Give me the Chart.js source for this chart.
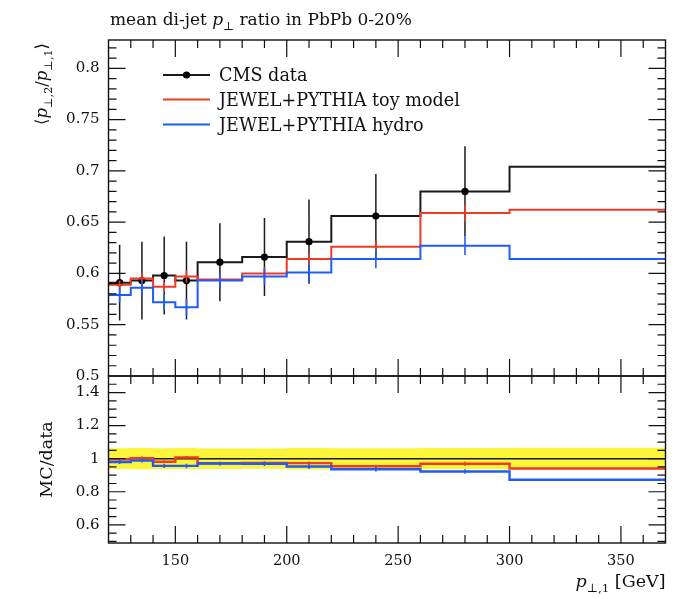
<!DOCTYPE html>
<html>
<head>
<meta charset="utf-8">
<script src="https://cdn.jsdelivr.net/npm/chart.js@4/dist/chart.umd.min.js"></script>
<style>
  html, body { margin: 0; padding: 0; background: #fff; }
  #wrap { width: 692px; height: 599px; position: relative; }
</style>
</head>
<body>
<div id="wrap"><canvas id="c" width="692" height="599"></canvas></div>
<script>
// Bin edges in leading-jet pT [GeV]; the last bin runs past the shown range
const binEdges  = [120, 130, 140, 150, 160, 180, 200, 220, 260, 300, 500];
// Mean di-jet pT ratio <pT2/pT1>, PbPb 0-20%
const cmsData   = [0.591, 0.593, 0.598, 0.593, 0.611, 0.616, 0.631, 0.656, 0.680, 0.704];
const cmsErr    = [0.037, 0.038, 0.038, 0.038, 0.038, 0.038, 0.041, 0.041, 0.044, 0.046];
const toyModel  = [0.589, 0.595, 0.587, 0.597, 0.594, 0.600, 0.614, 0.626, 0.659, 0.662];
const toyErr    = [0.004, 0.006, 0.005, 0.006, 0.005, 0.006, 0.006, 0.006, 0.008, 0.008];
const hydro     = [0.579, 0.586, 0.572, 0.567, 0.593, 0.597, 0.601, 0.614, 0.627, 0.614];
const hydroErr  = [0.007, 0.007, 0.008, 0.008, 0.007, 0.008, 0.009, 0.009, 0.009, 0.009];
// Tick labels
const xTickValues     = [150, 200, 250, 300, 350];
const mainTickValues  = [0.5, 0.55, 0.6, 0.65, 0.7, 0.75, 0.8];
const ratioTickValues = [0.6, 0.8, 1, 1.2, 1.4];
// Legend entries
const seriesNames = ['CMS data', 'JEWEL+PYTHIA toy model', 'JEWEL+PYTHIA hydro'];

const FONT = '"DejaVu Serif", serif';
const BLACK = '#1a1a1a';
const RED = '#ee3a26';
const BLUE = '#1f5cf5';
const YELLOW = '#fcf53a';

const centers = binEdges.slice(0, -1).map((e, i) => (e + binEdges[i + 1]) / 2);

// histogram outline: one point per lower edge, plus the final upper edge
function steps(vals) {
  const pts = vals.map((v, i) => ({ x: binEdges[i], y: v }));
  pts.push({ x: binEdges[binEdges.length - 1], y: vals[vals.length - 1] });
  return pts;
}
// vertical error segments at bin centres, separated by gaps
function errorBars(vals, errs) {
  const pts = [];
  vals.forEach((v, i) => {
    pts.push({ x: centers[i], y: v - errs[i] }, { x: centers[i], y: v + errs[i] }, { x: centers[i], y: null });
  });
  return pts;
}
const ratio = (vals) => vals.map((v, i) => v / cmsData[i]);
const ratioErr = (errs) => errs.map((e, i) => e / cmsData[i]);

// 'before': each horizontal run keeps the value of the point that starts it
function stepSet(data, color, axis, order, width) {
  return { type: 'line', data, yAxisID: axis, order, stepped: 'before', borderColor: color,
           borderWidth: width || 2, pointRadius: 0, fill: false, spanGaps: false };
}
function barSet(data, color, axis, order, width) {
  return { type: 'line', data, yAxisID: axis, order, borderColor: color,
           borderWidth: width || 1.6, pointRadius: 0, fill: false, spanGaps: false };
}

const bandHi = cmsErr.map((e, i) => 1 + e / cmsData[i]);
const bandLo = cmsErr.map((e, i) => 1 - e / cmsData[i]);

const datasets = [
  // main panel
  barSet(errorBars(hydro, hydroErr), BLUE, 'y', 1),
  stepSet(steps(hydro), BLUE, 'y', 2),
  barSet(errorBars(toyModel, toyErr), RED, 'y', 3),
  stepSet(steps(toyModel), RED, 'y', 4),
  { type: 'line', data: centers.map((c, i) => ({ x: c, y: cmsData[i] })), yAxisID: 'y', order: 5,
    showLine: false, pointRadius: 3.6, pointBackgroundColor: '#000', pointBorderWidth: 0 },
  barSet(errorBars(cmsData, cmsErr), BLACK, 'y', 6, 1.5),
  stepSet(steps(cmsData), BLACK, 'y', 7),
  // ratio panel
  barSet(errorBars(ratio(hydro), ratioErr(hydroErr)), BLUE, 'yr', 11),
  stepSet(steps(ratio(hydro)), BLUE, 'yr', 12, 2.4),
  barSet(errorBars(ratio(toyModel), ratioErr(toyErr)), RED, 'yr', 13),
  stepSet(steps(ratio(toyModel)), RED, 'yr', 14, 2.4),
  stepSet(steps(ratio(cmsData)), BLACK, 'yr', 15, 1.5),
  { type: 'line', data: steps(bandHi), yAxisID: 'yr', order: 20, stepped: 'before', fill: '+1',
    backgroundColor: YELLOW, borderColor: 'rgba(0,0,0,0)', borderWidth: 0, pointRadius: 0 },
  { type: 'line', data: steps(bandLo), yAxisID: 'yr', order: 21, stepped: 'before', fill: false,
    borderColor: 'rgba(0,0,0,0)', borderWidth: 0, pointRadius: 0 }
];

const fmt = (v) => String(+Number(v).toFixed(2));

// rich text: pieces with optional italic / subscript
function partFont(p, size) {
  const s = p.sub ? size * 0.68 : size;
  return (p.italic ? 'italic ' : '') + s.toFixed(1) + 'px ' + FONT;
}
function richWidth(ctx, parts, size) {
  let w = 0;
  for (const p of parts) { ctx.font = partFont(p, size); w += ctx.measureText(p.t).width; }
  return w;
}
function drawRich(ctx, parts, x, y, size) {
  for (const p of parts) {
    ctx.font = partFont(p, size);
    ctx.fillText(p.t, x, y + (p.sub ? size * 0.28 : 0));
    x += ctx.measureText(p.t).width;
  }
}

const titleParts = [{ t: 'mean di-jet ' }, { t: 'p', italic: true }, { t: '⊥', sub: true }, { t: ' ratio in PbPb 0-20%' }];
const yLabelParts = [{ t: '⟨' }, { t: 'p', italic: true }, { t: '⊥,2', sub: true }, { t: '/' },
                     { t: 'p', italic: true }, { t: '⊥,1', sub: true }, { t: '⟩' }];
const ratioLabelParts = [{ t: 'MC/data' }];
const xLabelParts = [{ t: 'p', italic: true }, { t: '⊥,1', sub: true }, { t: ' [GeV]' }];

const framePlugin = {
  id: 'frameAndLabels',
  afterDraw(chart) {
    const ctx = chart.ctx;
    const xs = chart.scales.x;
    const left = xs.left, right = xs.right;
    const panels = [
      { ys: chart.scales.y, vals: [], major: [] },
      { ys: chart.scales.yr, vals: [], major: [] }
    ];
    for (let k = 50; k <= 83; k++) { panels[0].vals.push(k / 100); panels[0].major.push(k % 5 === 0); }
    for (let k = 10; k <= 30; k++) { panels[1].vals.push(k / 20); panels[1].major.push(k % 4 === 0); }

    ctx.save();
    ctx.strokeStyle = '#111';
    for (const pn of panels) {
      const top = pn.ys.top, bottom = pn.ys.bottom;
      ctx.lineWidth = 1.2;
      ctx.beginPath();
      for (let v = 120; v <= 370; v += 10) {
        const px = xs.getPixelForValue(v);
        if (px <= left + 0.5 || px >= right - 0.5) continue;
        const len = v % 50 === 0 ? 17 : 8;
        ctx.moveTo(px, top); ctx.lineTo(px, top + len);
        ctx.moveTo(px, bottom); ctx.lineTo(px, bottom - len);
      }
      pn.vals.forEach((v, i) => {
        const py = pn.ys.getPixelForValue(v);
        if (py <= top + 0.5 || py >= bottom - 0.5) return;
        const len = pn.major[i] ? 17 : 8;
        ctx.moveTo(left, py); ctx.lineTo(left + len, py);
        ctx.moveTo(right, py); ctx.lineTo(right - len, py);
      });
      ctx.stroke();
      ctx.lineWidth = 1.4;
      ctx.strokeRect(left, top, right - left, bottom - top);
    }

    ctx.fillStyle = '#111';
    ctx.textAlign = 'left';
    ctx.textBaseline = 'alphabetic';
    // title
    drawRich(ctx, titleParts, 110, 25, 17);
    // x axis label, right-aligned to the frame
    const xw = richWidth(ctx, xLabelParts, 17.5);
    drawRich(ctx, xLabelParts, right - xw, 587, 17.5);
    // main y label, ending at the top of the panel
    const yw = richWidth(ctx, yLabelParts, 16.5);
    ctx.save();
    ctx.translate(47, chart.scales.y.top + 3);
    ctx.rotate(-Math.PI / 2);
    drawRich(ctx, yLabelParts, -yw, 0, 16.5);
    ctx.restore();
    // ratio y label, centred on its panel
    const rw = richWidth(ctx, ratioLabelParts, 17.5);
    const ry = chart.scales.yr;
    ctx.save();
    ctx.translate(52, (ry.top + ry.bottom) / 2);
    ctx.rotate(-Math.PI / 2);
    drawRich(ctx, ratioLabelParts, -rw / 2, 0, 17.5);
    ctx.restore();

    // legend
    const legendColors = [BLACK, RED, BLUE];
    const rowY = [75, 99.5, 124.5];
    seriesNames.forEach((name, i) => {
      ctx.strokeStyle = legendColors[i];
      ctx.lineWidth = 2;
      ctx.beginPath();
      ctx.moveTo(163, rowY[i]); ctx.lineTo(210, rowY[i]);
      ctx.stroke();
      if (i === 0) {
        ctx.fillStyle = '#000';
        ctx.beginPath(); ctx.arc(186.5, rowY[i], 3.6, 0, Math.PI * 2); ctx.fill();
      }
      ctx.fillStyle = '#111';
      ctx.font = '17.6px ' + FONT;
      ctx.fillText(name, 219, rowY[i] + 6);
    });
    ctx.restore();
  }
};

new Chart(document.getElementById('c'), {
  data: { datasets },
  options: {
    responsive: false,
    animation: false,
    devicePixelRatio: 1,
    layout: { padding: { top: 40, right: 26.5, left: 0, bottom: 0 } },
    plugins: { legend: { display: false }, tooltip: { enabled: false }, title: { display: false } },
    scales: {
      x: {
        type: 'linear', min: 120, max: 370,
        afterBuildTicks: (s) => { s.ticks = xTickValues.map((v) => ({ value: v })); },
        afterFit: (s) => { s.height = 56; },
        grid: { display: false, drawTicks: false }, border: { display: false },
        ticks: { padding: 10, color: '#111', font: { family: FONT, size: 14.5 }, maxRotation: 0,
                 callback: (v) => fmt(v) }
      },
      yr: {
        type: 'linear', position: 'left', stack: 'panels', stackWeight: 167,
        min: 0.49, max: 1.5,
        afterBuildTicks: (s) => { s.ticks = ratioTickValues.map((v) => ({ value: v })); },
        afterFit: (s) => { s.width = 108.5; },
        grid: { display: false, drawTicks: false }, border: { display: false },
        ticks: { padding: 9, color: '#111', font: { family: FONT, size: 15 }, callback: (v) => fmt(v) }
      },
      y: {
        type: 'linear', position: 'left', stack: 'panels', stackWeight: 336,
        min: 0.5, max: 0.8276,
        afterBuildTicks: (s) => { s.ticks = mainTickValues.map((v) => ({ value: v })); },
        afterFit: (s) => { s.width = 108.5; },
        grid: { display: false, drawTicks: false }, border: { display: false },
        ticks: { padding: 9, color: '#111', font: { family: FONT, size: 15 }, callback: (v) => fmt(v) }
      }
    }
  },
  plugins: [framePlugin]
});
</script>
</body>
</html>
